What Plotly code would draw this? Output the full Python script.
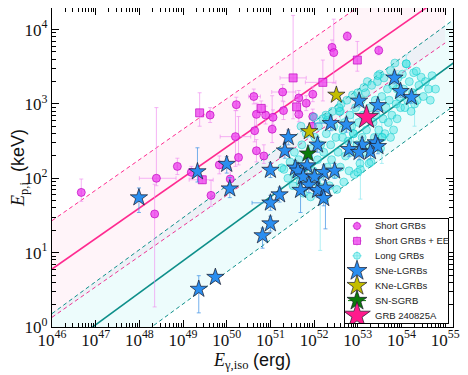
import numpy as np
import plotly.graph_objects as go

# ---------------- data (log10 values) ----------------
# Short GRBs: log E_iso [erg], log Ep,i [keV], y-errors (down, up), x-errors (down, up) in dex
short_logE = [46.67, 48.39, 48.35, 48.87, 49.19, 49.64, 49.62, 50.22, 50.20, 50.27, 49.83,
              50.08, 50.62, 50.68, 50.89, 50.64, 51.04, 51.06, 51.28, 51.30, 50.68, 50.85,
              52.76, 52.41, 52.45, 53.48, 51.65, 51.82, 51.97, 51.65, 51.97, 51.96]
short_logEp = [1.81, 2.00, 1.52, 2.16, 2.08, 1.77, 2.85, 2.99, 2.56, 2.28, 2.18,
               1.99, 3.10, 2.86, 2.85, 2.64, 2.66, 2.82, 3.16, 2.91, 2.37, 2.30,
               3.91, 3.76, 3.69, 3.72, 3.08, 3.01, 3.13, 2.86, 2.83, 2.70]
short_ylo = [0.12, 0.10, 1.25, 0.11, 0.08, 0.15, 0.10, 0.08, 0.40, 0.10, 0.12,
             0.10, 0.10, 0.15, 0.12, 0.15, 0.18, 0.10, 0.12, 0.12, 0.15, 0.10,
             0.06, 0.10, 0.41, 0.06, 0.10, 0.10, 0.10, 0.10, 0.10, 0.10]
short_yhi = [0.18, 0.95, 0.40, 0.11, 0.08, 0.20, 0.10, 0.10, 0.35, 0.55, 0.12,
             0.15, 0.10, 0.15, 0.12, 0.25, 0.45, 0.10, 0.10, 0.12, 0.15, 0.15,
             0.06, 0.10, 0.45, 0.06, 0.10, 0.10, 0.10, 0.10, 0.10, 0.10]
short_xlo = [0.0, 0.39, 0.0, 0.0, 0.0, 0.0, 0.0, 0.0, 0.35, 0.0, 0.0,
             0.0, 0.12, 0.0, 0.0, 0.0, 0.0, 0.0, 0.25, 0.0, 0.0, 0.0,
             0.0, 0.0, 0.0, 0.0, 0.0, 0.0, 0.0, 0.0, 0.0, 0.0]
short_xhi = [0.0, 0.45, 0.0, 0.0, 0.0, 0.0, 0.0, 0.0, 0.35, 0.0, 0.0,
             0.0, 0.15, 0.0, 0.0, 0.0, 0.0, 0.0, 0.30, 0.0, 0.0, 0.0,
             0.0, 0.0, 0.0, 0.0, 0.0, 0.0, 0.0, 0.0, 0.0, 0.0]

# Short GRBs with extended emission
ee_logE = [49.44, 49.38, 50.79, 51.52, 51.60, 52.20, 52.99]
ee_logEp = [1.98, 2.88, 2.94, 3.35, 2.96, 3.29, 3.59]
ee_ylo = [0.05, 0.18, 0.10, 0.55, 0.10, 0.25, 0.15]
ee_yhi = [0.05, 0.27, 0.10, 0.84, 0.10, 0.30, 0.25]
ee_xlo = [0.30, 0.0, 0.0, 0.30, 0.0, 0.40, 0.0]
ee_xhi = [0.25, 0.0, 0.0, 0.30, 0.0, 0.30, 0.0]

# Long GRBs
long_logE = [51.26, 51.31, 51.40, 51.45, 51.52, 51.55, 51.58,
             51.65, 51.68, 51.72, 51.75, 51.78, 51.82, 51.85, 51.88, 51.70,
             51.92, 51.95, 51.98, 52.02, 52.05, 52.08, 52.10, 52.12, 52.15, 52.18, 52.20, 52.00,
             52.22, 52.25, 52.28, 52.30, 52.33, 52.35, 52.38, 52.40, 52.42, 52.45, 52.48, 52.30, 52.50, 52.27,
             52.52, 52.55, 52.58, 52.60, 52.62, 52.65, 52.68, 52.70, 52.72, 52.75, 52.78, 52.80, 52.57, 52.66,
             52.82, 52.85, 52.88, 52.90, 52.92, 52.95, 52.98, 53.00, 53.02, 53.05, 53.08, 53.10, 52.86, 53.00,
             53.12, 53.15, 53.18, 53.20, 53.22, 53.25, 53.28, 53.30, 53.32, 53.35, 53.38, 53.40, 53.14, 53.26,
             53.42, 53.45, 53.48, 53.50, 53.52, 53.55, 53.58, 53.60, 53.62, 53.65, 53.68, 53.70, 53.46, 53.56,
             53.72, 53.75, 53.78, 53.80, 53.82, 53.85, 53.88, 53.90, 53.92, 53.95, 53.98, 53.75,
             54.02, 54.05, 54.08, 54.11, 54.14, 54.18, 54.22, 54.25, 54.28,
             54.34, 54.36, 54.40, 54.45, 54.50, 54.55, 54.62, 54.70, 54.78, 54.66]
long_logEp = [2.14, 2.12, 2.00, 2.22, 1.90, 2.35, 2.05,
              2.25, 1.95, 2.45, 1.80, 2.15, 2.60, 2.00, 2.30, 2.70,
              1.75, 2.40, 2.10, 2.55, 1.95, 2.25, 2.70, 1.85, 2.45, 2.05, 2.80, 2.82,
              2.35, 1.72, 2.60, 2.15, 2.82, 1.90, 2.45, 2.25, 2.90, 2.70, 2.05, 2.78, 2.55, 2.85,
              1.85, 2.35, 2.90, 2.15, 3.00, 2.55, 1.95, 2.75, 2.30, 3.05, 2.50, 2.10, 2.95, 2.65,
              2.85, 2.35, 3.12, 2.60, 2.05, 2.95, 2.45, 3.15, 2.75, 2.20, 3.05, 2.55, 2.70, 2.08,
              2.85, 2.35, 3.15, 2.65, 3.30, 2.45, 2.95, 2.22, 3.25, 2.75, 2.55, 3.05, 3.22, 2.20,
              2.85, 3.30, 2.65, 3.40, 2.40, 3.10, 2.80, 3.35, 2.60, 2.95, 3.20, 2.75, 3.38, 2.55,
              3.05, 3.45, 2.85, 3.25, 2.65, 3.55, 3.00, 2.80, 3.35, 3.10, 2.95, 2.55,
              3.40, 3.20, 2.95, 3.54, 3.05, 3.30, 2.90, 3.15, 3.42,
              3.44, 3.05, 3.25, 3.36, 3.10, 3.30, 3.20, 3.38, 3.20, 3.05]

# Long GRBs whose error bars are visible
longe_logE = [53.06, 52.14, 53.55, 52.90, 53.90, 54.30, 52.60, 54.11]
longe_logEp = [2.12, 1.88, 2.55, 2.60, 3.20, 3.00, 2.90, 3.54]
longe_ylo = [0.40, 0.85, 0.35, 0.25, 0.20, 0.30, 0.20, 0.08]
longe_yhi = [0.15, 0.10, 0.20, 0.30, 0.25, 0.20, 0.25, 0.12]

# SNe-LGRBs
sne_logE = [47.99, 49.33, 49.36, 49.74, 50.00, 50.07, 51.41, 51.33, 51.00, 51.57,
            51.21, 51.00, 52.08, 52.38, 52.74, 52.80, 51.84, 51.63, 52.22, 52.47,
            51.75, 52.01, 51.88, 51.69, 52.08, 52.26, 52.22, 51.00, 50.82, 53.84,
            53.98, 54.23, 53.03, 53.46, 53.41, 53.10, 53.29, 53.03, 53.46]
sne_logEp = [1.74, 2.09, 0.51, 0.67, 2.19, 1.86, 2.55, 2.37, 2.11, 2.14,
             1.78, 1.67, 2.45, 2.74, 2.72, 2.39, 2.17, 2.10, 2.08, 2.10,
             2.02, 2.02, 1.91, 1.84, 1.84, 1.87, 1.73, 1.39, 1.23, 3.35,
             3.17, 3.09, 3.04, 2.98, 2.48, 2.45, 2.36, 2.35, 2.43]
sne_ylo = [0.20, 0.14, 0.32, 0.05, 0.12, 0.12, 0.10, 0.10, 0.10, 0.10,
           0.10, 0.10, 0.10, 0.10, 0.10, 0.10, 0.10, 0.10, 0.10, 0.10,
           0.10, 0.10, 0.10, 0.30, 0.10, 0.55, 0.10, 0.10, 0.17, 0.08,
           0.08, 0.08, 0.08, 0.08, 0.10, 0.10, 0.10, 0.10, 0.10]
sne_yhi = [0.13, 0.32, 0.18, 0.05, 0.10, 0.15, 0.10, 0.10, 0.10, 0.10,
           0.10, 0.10, 0.10, 0.10, 0.10, 0.10, 0.10, 0.10, 0.10, 0.10,
           0.10, 0.10, 0.10, 0.10, 0.10, 0.10, 0.10, 0.10, 0.10, 0.08,
           0.08, 0.08, 0.08, 0.08, 0.10, 0.10, 0.10, 0.10, 0.10]
sne_xlo = [0.0] * 11 + [0.42, 0.0, 0.37] + [0.0] * 25

# KNe-LGRBs, SN-SGRB, GRB 240825A
kne_logE = [51.89, 52.51]
kne_logEp = [2.63, 3.12]
snsgrb_logE = [51.86]
snsgrb_logEp = [2.33]
grb_logE = [53.20]
grb_logEp = [2.82]

# Amati-type relations: log Ep = a + b (log E - 46), 1-sigma band
short_fit = dict(a=0.78, b=0.41, sig=0.65, x=[46.0, 55.0])
long_fit = dict(a=-0.40, b=0.43, sig=0.58, x=[46.0, 55.3])

legend_labels = ["Short GRBs", "Short GRBs + EE", "Long GRBs", "SNe-LGRBs",
                 "KNe-LGRBs", "SN-SGRB", "GRB 240825A"]

# ---------------- styles ----------------
C_SHORT = "rgba(236,60,236,0.75)"
C_SHORT_EDGE = "rgba(190,0,190,0.85)"
C_SHORT_ERR = "rgba(240,140,240,0.65)"
C_LONG = "rgba(64,226,226,0.42)"
C_LONG_EDGE = "rgba(0,200,200,0.6)"
C_LONG_ERR = "rgba(140,232,240,0.7)"
C_SNE = "#2a8ef0"
C_SNE_ERR = "rgba(70,150,230,0.75)"
C_KNE = "#c4bd00"
C_SNS = "#0b7a0b"
C_GRB = "#ff1a8c"
C_PINK_LINE = "#ff2a90"
C_TEAL_LINE = "#0e8f8a"
SERIF = "Liberation Serif"
SANS = "Liberation Sans"
STAR_EDGE = dict(color="#1a1a2a", width=0.7)


def lin(v):
    return 10 ** np.asarray(v, dtype=float)


def eplus(v, d):
    v = np.asarray(v, dtype=float)
    return 10 ** (v + np.asarray(d)) - 10 ** v


def eminus(v, d):
    v = np.asarray(v, dtype=float)
    return 10 ** v - 10 ** (v - np.asarray(d))


fig = go.Figure()

# relation bands (pink = short, teal = long)
for fit, line_c, fill_c in [(short_fit, C_PINK_LINE, "rgba(255,105,180,0.075)"),
                            (long_fit, C_TEAL_LINE, "rgba(0,215,215,0.07)")]:
    xs = np.array(fit["x"])
    mid = fit["a"] + fit["b"] * (xs - 46)
    fig.add_trace(go.Scatter(x=lin(xs), y=lin(mid - fit["sig"]), mode="lines",
                             line=dict(color=line_c, width=1, dash="4px,3px"),
                             hoverinfo="skip", showlegend=False))
    fig.add_trace(go.Scatter(x=lin(xs), y=lin(mid + fit["sig"]), mode="lines",
                             line=dict(color=line_c, width=1, dash="4px,3px"),
                             fill="tonexty", fillcolor=fill_c,
                             hoverinfo="skip", showlegend=False))
    fig.add_trace(go.Scatter(x=lin(xs), y=lin(mid), mode="lines",
                             line=dict(color=line_c, width=1.6),
                             hoverinfo="skip", showlegend=False))

# Short GRBs
fig.add_trace(go.Scatter(
    x=lin(short_logE), y=lin(short_logEp), mode="markers", showlegend=False,
    error_y=dict(type="data", symmetric=False, array=eplus(short_logEp, short_yhi),
                 arrayminus=eminus(short_logEp, short_ylo), color=C_SHORT_ERR, thickness=1, width=2),
    error_x=dict(type="data", symmetric=False, array=eplus(short_logE, short_xhi),
                 arrayminus=eminus(short_logE, short_xlo), color=C_SHORT_ERR, thickness=1, width=2),
    marker=dict(symbol="circle", size=8, color=C_SHORT, line=dict(color=C_SHORT_EDGE, width=0.8)),
))
fig.add_trace(go.Scatter(
    x=lin(ee_logE), y=lin(ee_logEp), mode="markers", showlegend=False,
    error_y=dict(type="data", symmetric=False, array=eplus(ee_logEp, ee_yhi),
                 arrayminus=eminus(ee_logEp, ee_ylo), color=C_SHORT_ERR, thickness=1, width=2),
    error_x=dict(type="data", symmetric=False, array=eplus(ee_logE, ee_xhi),
                 arrayminus=eminus(ee_logE, ee_xlo), color=C_SHORT_ERR, thickness=1, width=2),
    marker=dict(symbol="square", size=8, color=C_SHORT, line=dict(color=C_SHORT_EDGE, width=0.8)),
))

# Long GRBs
fig.add_trace(go.Scatter(
    x=lin(longe_logE), y=lin(longe_logEp), mode="markers", showlegend=False,
    error_y=dict(type="data", symmetric=False, array=eplus(longe_logEp, longe_yhi),
                 arrayminus=eminus(longe_logEp, longe_ylo), color=C_LONG_ERR, thickness=1, width=2),
    marker=dict(symbol="circle", size=8, color=C_LONG, line=dict(color=C_LONG_EDGE, width=0.8)),
))
fig.add_trace(go.Scatter(
    x=lin(long_logE), y=lin(long_logEp), mode="markers", showlegend=False,
    marker=dict(symbol="circle", size=8, color=C_LONG, line=dict(color=C_LONG_EDGE, width=0.8)),
))

# SNe-LGRBs
fig.add_trace(go.Scatter(
    x=lin(sne_logE), y=lin(sne_logEp), mode="markers", showlegend=False,
    error_y=dict(type="data", symmetric=False, array=eplus(sne_logEp, sne_yhi),
                 arrayminus=eminus(sne_logEp, sne_ylo), color=C_SNE_ERR, thickness=1, width=2),
    error_x=dict(type="data", symmetric=False, array=np.zeros(len(sne_logE)),
                 arrayminus=eminus(sne_logE, sne_xlo), color=C_SNE_ERR, thickness=1, width=2),
    marker=dict(symbol="star", size=13, color=C_SNE, line=STAR_EDGE),
))
for xs_, ys_, col, sz in [(kne_logE, kne_logEp, C_KNE, 13),
                          (snsgrb_logE, snsgrb_logEp, C_SNS, 13),
                          (grb_logE, grb_logEp, C_GRB, 18)]:
    fig.add_trace(go.Scatter(
        x=lin(xs_), y=lin(ys_), mode="markers", showlegend=False,
        marker=dict(symbol="star", size=sz, color=col, line=STAR_EDGE),
    ))

# ---------------- hand-drawn legend box on its own small axes ----------------
leg_style = [
    dict(symbol="circle", size=7, color=C_SHORT, line=dict(color=C_SHORT_EDGE, width=0.8)),
    dict(symbol="square", size=7, color=C_SHORT, line=dict(color=C_SHORT_EDGE, width=0.8)),
    dict(symbol="circle", size=7, color=C_LONG, line=dict(color=C_LONG_EDGE, width=0.8)),
    dict(symbol="star", size=15, color=C_SNE, line=STAR_EDGE),
    dict(symbol="star", size=15, color=C_KNE, line=STAR_EDGE),
    dict(symbol="star", size=15, color=C_SNS, line=STAR_EDGE),
    dict(symbol="star", size=20, color=C_GRB, line=STAR_EDGE),
]
leg_err = [C_SHORT_ERR, C_SHORT_ERR, C_LONG_ERR, None, None, C_SNS, None]
row_h = 14.92
for i, (lab, st, ec) in enumerate(zip(legend_labels, leg_style, leg_err)):
    yy = 97.3 - row_h * i
    kw = {}
    if ec is not None:
        kw["error_x"] = dict(type="constant", value=9 if i == 5 else 5, color=ec, thickness=1, width=0)
        if i < 3:
            kw["error_y"] = dict(type="constant", value=5, color=ec, thickness=1, width=0)
    fig.add_trace(go.Scatter(x=[12], y=[yy], mode="markers", marker=st, xaxis="x2", yaxis="y2",
                             showlegend=False, hoverinfo="skip", **kw))
    fig.add_annotation(x=27.5, y=yy, xref="x2", yref="y2", text=lab, showarrow=False,
                       xanchor="left", yanchor="middle",
                       font=dict(family=SANS, size=9.5, color="#222"))

# ---------------- axes ----------------
xt = list(range(46, 56))
yt = list(range(0, 5))
x_minor = [k * 10.0 ** n for n in range(46, 56) for k in range(2, 10)]
y_minor = [k * 10.0 ** n for n in range(0, 5) for k in range(2, 10)]

axis_common = dict(
    showline=True, linecolor="black", linewidth=1.3, mirror="allticks",
    ticks="inside", ticklen=7, tickwidth=1, tickcolor="black",
    showgrid=False, zeroline=False, automargin=False,
    tickfont=dict(family=SERIF, size=17, color="#111"),
)

# the page body adds an 8px margin, so the figure is 8px smaller than the window
fig.update_layout(
    width=460, height=367,
    margin=dict(l=44, r=15, t=0, b=48),
    paper_bgcolor="white", plot_bgcolor="white",
    showlegend=False,
    xaxis=dict(type="log", range=[46, 55.18], tickmode="array",
               tickvals=[10.0 ** v for v in xt],
               ticktext=[f"10<sup>{v}</sup>" for v in xt],
               ticklabelstandoff=-3,
               minor=dict(ticks="inside", ticklen=4, tickcolor="black", tickmode="array",
                          tickvals=x_minor, showgrid=False),
               title=dict(text="<i>E</i><sub>γ,iso</sub>&nbsp;<span style='font-family:Liberation Sans'>(erg)</span>",
                          font=dict(family=SERIF, size=18, color="#111"), standoff=0),
               **axis_common),
    yaxis=dict(type="log", range=[0, 4.29], tickmode="array",
               tickvals=[10.0 ** v for v in yt],
               ticktext=[f"10<sup>{v}</sup>" for v in yt],
               minor=dict(ticks="inside", ticklen=4, tickcolor="black", tickmode="array",
                          tickvals=y_minor, showgrid=False),
               title=dict(text="<i>E</i><sub>p,i</sub><span style='font-family:Liberation Sans'>&nbsp;&nbsp;(keV)</span>",
                          font=dict(family=SERIF, size=18, color="#111"), standoff=4),
               **axis_common),
    xaxis2=dict(domain=[0.7307, 0.9875], range=[0, 103], anchor="y2",
                showline=True, mirror=True, linecolor="black", linewidth=1,
                showticklabels=False, ticks="", showgrid=False, zeroline=False, fixedrange=True),
    yaxis2=dict(domain=[0.0116, 0.3386], range=[0, 104.3], anchor="x2",
                showline=True, mirror=True, linecolor="black", linewidth=1,
                showticklabels=False, ticks="", showgrid=False, zeroline=False, fixedrange=True),
)

fig.write_html("out.html")
